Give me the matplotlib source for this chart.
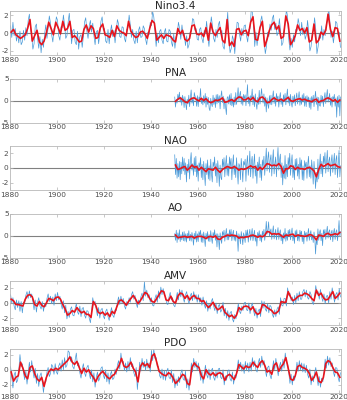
import numpy as np
import matplotlib
matplotlib.use('Agg')
import matplotlib.pyplot as plt

plt.rcParams['axes.unicode_minus'] = False

# Nino3.4, 1880-2020 (red: yearly, blue: two per year)
nino_red = [0.1, 0.4, -0.2, -0.4, -0.6, -0.4, -0.2, 0.5, 1.5, -0.9,
            -0.3, 0.3, -1.0, -1.3, -0.9, 0.0, 1.2, 0.5, -0.2, 1.2,
            0.6, -0.1, 1.3, 0.3, 0.5, 1.3, -0.5, -0.3, -0.6, -1.0,
            -0.9, 0.4, 0.9, 0.1, 0.8, 0.5, -0.6, -0.5, 0.6, 1.0,
            -0.2, -0.3, -0.5, 0.3, -0.4, 0.8, 0.3, 0.1, 0.0, -0.3,
            1.3, 0.2, -0.2, -0.5, -0.4, 0.1, 0.2, -0.1, -0.6, 0.5,
            1.4, 1.1, -0.8, -0.5, -0.2, -0.6, -0.2, -0.3, -0.4, -0.8,
            -1.0, 0.5, -0.1, 0.3, -0.7, -0.9, -0.6, 0.8, 0.9, -0.1,
            -0.2, 0.0, -0.4, 0.6, -0.8, 1.1, 0.1, -0.3, 0.2, 0.6,
            -0.8, -1.1, 1.5, -1.4, -1.0, -1.5, 0.4, 0.5, -0.2, 0.2,
            0.3, -0.3, 1.2, 1.8, -0.7, -0.8, 0.6, 1.3, -1.5, -0.7,
            0.3, 0.9, 1.2, 0.4, 0.8, -0.6, -0.4, 1.9, 1.0, -1.3,
            -0.9, -0.3, 0.9, 0.3, 0.5, 0.0, 0.6, -1.0, -0.8, 1.0,
            -1.1, -0.8, 0.1, -0.2, 0.3, 2.1, 0.4, -0.4, 0.6, 0.5,
            -0.9]
nino_blue = [0.8, -0.5, 1.2, -0.3, 0.5, -0.9, -0.1, -1.1, 0.2, -1.3, -1.0, 0.3, -0.8, 0.6, -0.3, 1.4, 2.1, 0.6, -0.4, -1.8,
             -1.2, 0.7, 1.0, -0.6, -1.7, -0.4, -2.2, -0.7, -1.6, -0.1, 0.9, -0.6, 0.6, 1.9, 1.1, -0.2, -1.0, 0.5, 0.7, 1.8,
             1.4, -0.3, -0.8, 0.7, 0.6, 2.0, 0.9, -0.6, -0.3, 1.2, 2.2, 0.5, -1.2, 0.3, 0.4, -1.0, -1.3, 0.2, -1.8, -0.4,
             -0.2, -1.6, -0.4, 1.2, 1.7, 0.2, -0.6, 0.8, 1.4, 0.1, 1.1, -0.3, -1.3, 0.1, 0.3, -1.2, -0.1, 1.3, 1.8, 0.3,
             0.5, -0.9, -1.1, 0.4, -1.2, 0.1, 0.9, -0.4, 0.3, -1.1, 0.1, 1.5, 1.0, -0.4, -0.5, 0.7, 0.6, -0.6, -1.0, 0.4,
             0.6, 2.0, 0.9, -0.5, 0.4, -0.8, -1.2, 0.2, -1.1, 0.3, 0.7, -0.5, -0.4, 0.8, 0.5, -0.7, -1.3, 0.1, -0.2, 1.2,
             0.8, 2.4, 1.8, 0.3, -1.5, -0.1, -1.1, 0.2, 0.4, -0.8, -1.2, 0.1, 0.5, -0.9, -1.0, 0.4, 0.2, -1.0, -1.5, -0.1,
             -1.7, -0.4, -0.2, 1.2, 0.5, -0.7, 0.9, -0.3, -0.1, -1.4, -0.3, -1.7, -1.3, 0.1, 0.2, 1.6, 1.5, 0.3, 0.5, -0.7,
             -0.8, 0.4, 0.6, -0.6, -1.1, 0.3, -0.1, 1.3, -0.3, -1.5, 0.4, 1.8, 0.8, -0.6, -1.0, 0.4, -0.5, 0.9, 1.3, -0.1,
             0.3, -1.5, -1.8, -0.4, 0.7, 2.3, -0.7, -2.2, -1.7, -0.3, -0.8, -2.3, -0.4, 1.2, 1.1, -0.1, -0.9, 0.5, -0.3, 0.8,
             0.9, -0.3, -1.0, 0.4, 0.5, 2.5, 2.3, 1.1, -1.5, 0.1, -1.4, -0.2, -0.2, 1.3, 1.9, 0.7, -0.8, -2.3, -1.5, 0.1,
             -0.4, 1.0, 0.3, 1.6, 2.0, 0.4, 1.1, -0.3, 0.1, 1.6, 0.2, -1.4, -1.1, 0.3, 1.2, 2.6, 1.8, -0.7, -1.9, -0.6,
             -1.6, -0.2, -1.0, 0.4, 0.2, 1.6, 0.9, -0.3, 1.2, -0.2, 0.6, -0.7, -0.2, 1.4, 0.1, -2.0, -1.5, -0.1, 0.3, 1.7,
             0.4, -2.3, -1.5, -0.1, -0.6, 0.8, -0.8, 0.4, -0.3, 1.0, 1.4, 2.8, 1.3, -0.5, 0.2, -1.1, -0.1, 1.3, 1.1, -0.2,
             0.1, -1.6]

# PNA, 1950-2020 (red: yearly, blue: three per year)
pna_red = [-0.2, 0.3, 0.6, 0.2, -0.3, -0.5, 0.1, 0.5, 0.6, 0.2,
           -0.1, 0.5, 0.0, 0.4, -0.2, -0.5, -0.3, 0.1, 0.0, 0.2,
           0.6, -0.4, -0.3, 0.0, 0.2, -0.2, 0.4, 0.8, 0.7, 0.1,
           0.2, 0.6, 0.1, 0.7, 0.0, -0.3, 0.6, 0.8, 0.3, -0.5,
           -0.4, 0.2, 0.6, 0.2, 0.0, 0.3, -0.1, 0.3, 0.7, 0.0,
           -0.2, 0.1, 0.3, 0.4, 0.1, 0.3, 0.0, -0.1, -0.3, 0.1,
           0.3, -0.4, -0.1, 0.0, 0.4, 0.6, 0.3, -0.1, 0.2, -0.4,
           0.1]
pna_blue = [0.8, -1.5, 0.3, -0.6, 1.4, 0.2, 1.9, -0.4, 0.8, -1.1, 1.2, 0.4, -1.6, 0.9, -0.5, -2.1, 0.3, -0.8, 1.2, -1.4, 0.6, 2.4, -0.6, 0.5, -1.2, 1.8, 0.9, 0.7, -1.3, 1.1,
            -1.4, 0.8, 0.2, 2.7, -0.7, 0.4, -1.0, 1.1, -0.6, 1.6, -1.5, 0.9, -0.9, 0.7, -1.8, -2.3, 0.5, -0.8, -1.4, 1.2, -0.9, 0.6, -1.6, 1.3, -0.8, 1.4, -0.5, 1.1, -1.9, 0.9,
            2.2, -0.5, 1.0, -1.9, 0.4, -1.3, -3.2, 0.6, 0.9, -0.8, 1.3, -1.0, 1.6, -1.2, 0.4, -1.5, 0.8, -1.0, 1.8, -0.9, 0.7, 2.9, -0.3, 1.2, 2.1, -0.8, 1.0, -1.1, 1.4, 0.3,
            1.3, -1.2, 0.7, 3.6, -0.7, 0.9, -1.3, 1.1, 0.4, 2.6, -1.0, 1.1, -1.4, 1.5, -0.6, -2.0, 0.7, -0.9, 2.3, -0.8, 1.0, 2.7, 0.4, -0.6, 1.5, -1.3, 0.8, -2.6, 0.6, -0.9,
            -1.8, 1.1, -0.9, 1.2, -1.0, 0.6, 2.2, -0.7, 0.9, -1.3, 1.6, 0.3, 1.0, -1.5, 0.6, 1.8, -0.9, 0.5, -1.4, 1.3, -0.3, 1.6, -1.0, 0.8, 2.6, -0.6, 1.0, -1.2, 1.4, -0.5,
            -1.5, 1.0, -0.6, 1.3, -1.2, 0.5, 1.7, -0.8, 0.6, 2.0, -1.1, 0.7, -0.9, 1.3, -0.4, 1.6, -1.3, 0.9, -1.4, 1.1, -0.3, 0.8, -1.6, 0.6, -2.0, 0.9, -0.5, 1.2, -1.4, 0.6,
            2.1, -0.9, 0.8, -2.3, 0.7, -1.1, -1.3, 1.2, -0.6, 1.0, -1.4, 0.4, 1.8, -0.7, 0.9, 2.5, -0.4, 0.6, 1.6, -1.1, 0.7, -1.5, 0.9, 0.3, 1.4, -1.3, 0.6, -3.8, 0.9, -1.5,
            1.2, -3.5, 0.8]

# NAO, 1950-2020
nao_red = [0.4, -0.2, -0.1, 0.1, 0.2, -0.3, 0.0, 0.4, 0.1, 0.2,
           -0.3, 0.1, -0.2, -0.5, -0.1, -0.2, -0.3, 0.1, -0.3, -0.6,
           -0.2, 0.0, 0.2, 0.1, 0.0, 0.2, 0.0, -0.3, -0.1, -0.2,
           -0.1, 0.1, 0.3, 0.1, 0.2, -0.3, 0.1, -0.2, 0.2, 0.6,
           0.5, 0.3, 0.4, 0.3, 0.6, 0.2, -0.7, -0.1, -0.1, 0.3,
           0.2, -0.2, 0.1, -0.1, -0.1, -0.2, 0.0, 0.1, -0.1, -0.4,
           -1.2, -0.2, 0.5, 0.2, 0.4, 0.6, 0.3, 0.4, 0.5, 0.2,
           0.1]
nao_blue = [1.8, -0.9, 1.3, -1.4, 0.6, -1.2, 0.9, -1.6, 0.8, -0.8, 1.5, -0.4, 1.3, -0.9, 0.7, -1.9, 0.5, -0.6, 1.2, -1.5, 0.9, 2.1, -0.3, 0.6, -1.0, 1.4, -0.5, 1.6, -1.2, 0.4,
            -1.8, 0.7, 0.1, 1.4, -1.3, 0.5, -1.6, 0.9, -0.7, -2.4, 0.6, -0.9, 1.1, -1.5, 0.3, -1.7, 1.2, -0.8, -1.9, 0.8, 0.2, 1.5, -1.1, 0.6, -2.0, 1.0, -0.4, -2.5, 0.4, -1.3,
            -1.6, 1.2, 0.1, 1.4, -1.2, 0.5, 1.7, -1.0, 0.6, -1.1, 1.5, 0.2, 1.3, -1.6, 0.5, 1.8, -0.9, 0.4, -1.3, 1.4, -0.5, -2.2, 0.6, 0.3, -1.6, 1.3, 0.0, -1.9, 0.9, 0.4,
            1.2, -1.8, 0.6, 1.7, -1.0, 0.2, 2.3, -1.2, 0.8, 1.6, -1.4, 0.5, 1.9, -1.1, 0.4, -2.1, 0.8, -0.3, 1.5, -1.3, 0.5, -1.7, 1.1, 0.2, 1.6, -1.0, 0.7, 2.7, -0.4, 1.3,
            2.2, -0.6, 1.1, 1.8, -1.1, 0.9, 2.5, -0.8, 0.6, 1.5, -1.2, 1.0, 2.8, -0.3, 1.1, 1.9, -1.3, 0.7, -2.3, 0.3, -1.4, 1.7, -1.5, 0.5, -1.2, 1.4, 0.2, 2.0, -1.0, 0.7,
            1.8, -1.3, 0.4, -1.6, 1.2, -0.3, 1.3, -1.1, 0.5, -1.5, 1.4, -0.2, 1.1, -1.6, 0.3, -1.7, 1.0, 0.1, 0.8, -1.4, 0.5, 1.6, -1.2, 0.3, -1.4, 1.1, -0.2, -2.2, 0.9, -0.8,
            -2.8, -0.6, -1.9, 1.2, -1.5, 0.3, 1.9, -0.8, 0.9, -1.2, 1.6, 0.6, 2.1, -0.7, 0.8, 2.4, -0.5, 1.0, 1.5, -1.1, 0.9, 1.8, -0.6, 0.7, 2.0, -0.9, 1.1, 1.7, -1.3, 0.6,
            2.4, -1.2, 0.3]

# AO, 1950-2020
ao_red = [0.1, -0.5, -0.4, -0.3, -0.2, -0.4, -0.3, -0.2, -0.6, -0.3,
          -0.2, -0.2, -0.4, -0.7, -0.3, -0.2, -0.4, -0.1, -0.8, -0.9,
          -0.4, -0.2, 0.1, 0.0, 0.1, 0.0, -0.1, -0.6, -0.4, -0.5,
          -0.3, -0.3, 0.0, 0.1, -0.1, -0.4, -0.1, -0.3, 0.0, 0.9,
          0.8, 0.3, 0.4, 0.3, 0.4, 0.0, -0.4, 0.1, 0.0, 0.2,
          0.3, -0.2, 0.1, 0.0, -0.1, -0.2, -0.1, 0.2, 0.1, -0.3,
          -1.0, 0.1, 0.0, -0.2, 0.3, 0.5, 0.1, 0.2, 0.4, 0.2,
          0.7]
ao_blue = [0.4, -1.1, 1.2, -1.6, 0.6, -0.9, 1.3, -1.4, 0.2, -1.0, 0.8, -1.2, 0.9, -1.3, 0.4, -1.5, 0.5, -0.7, 1.1, -1.2, 0.3, -1.3, 0.7, -0.4, -2.2, 0.5, -0.9, 1.0, -1.5, 0.4,
           -1.4, 0.9, 0.0, 1.2, -1.5, 0.4, -1.6, 0.8, -0.6, -2.5, 0.5, -0.8, 0.9, -1.3, 0.2, -1.4, 1.1, -0.6, -1.8, 0.7, -0.3, 1.3, -1.1, 0.4, -2.6, 0.4, -0.8, -3.2, 0.6, -0.9,
           -1.8, 0.9, 0.0, 1.2, -1.3, 0.3, 1.6, -1.0, 0.5, -1.0, 1.3, -0.2, 1.4, -1.2, 0.3, 1.2, -1.1, 0.2, -1.3, 1.0, -0.3, -3.6, 0.4, -0.5, -1.9, 0.9, -0.4, -2.1, 0.6, -0.1,
           -1.6, 1.2, -0.5, 1.3, -1.5, 0.3, 1.4, -1.1, 0.4, 1.6, -1.2, 0.2, 1.2, -1.3, 0.0, -2.4, 0.7, -0.4, 1.1, -1.2, 0.3, -1.5, 1.0, -0.2, 1.4, -1.1, 0.5, 3.2, 0.3, 1.2,
           3.1, -0.2, 0.9, 1.5, -0.9, 0.7, 2.2, -0.8, 0.4, 1.4, -1.0, 0.6, 1.8, -0.9, 0.5, 1.3, -1.2, 0.3, -1.9, 0.6, -0.8, 1.6, -1.3, 0.5, -1.1, 1.2, 0.1, 1.4, -1.0, 0.6,
           1.7, -1.2, 0.4, -1.8, 1.1, -0.2, 1.3, -1.2, 0.3, -1.3, 1.2, 0.1, 1.0, -1.4, 0.2, -1.9, 1.0, -0.1, 0.7, -1.3, 0.4, 1.6, -1.1, 0.3, 1.1, -1.0, 0.2, -1.6, 0.8, -0.7,
           -4.2, -0.8, -2.1, 1.5, -1.1, 0.6, 1.3, -1.2, 0.5, -2.3, 1.3, 0.2, 1.4, -0.9, 0.8, 2.1, -0.6, 0.9, 1.3, -1.0, 0.6, 1.2, -1.4, 0.7, 1.6, -0.9, 0.8, 1.3, -1.2, 0.6,
           3.4, -0.2, 0.9]

# AMV, 1880-2020
amv_red = [0.5, 0.3, -0.2, -0.2, -0.3, -0.4, 0.5, 1.0, 1.1, 0.8,
           -0.2, -0.4, 0.2, -0.3, -0.5, 0.0, 0.6, 0.5, 0.3, 0.7,
           0.8, 0.5, -0.2, -0.8, -1.6, -1.4, -1.0, -1.2, -0.6, -1.0,
           -1.3, -1.1, -1.5, -1.5, -1.9, 0.2, -0.3, -1.2, -1.4, -1.2,
           -1.6, -1.3, -1.8, -1.1, -1.4, -0.5, 0.3, 0.4, 0.1, -0.3,
           0.2, 0.6, 1.0, 0.5, -0.1, 0.3, 0.8, 1.4, 1.2, 0.6,
           0.2, 0.1, 0.6, 1.1, 1.6, 1.5, 0.4, 0.3, 0.9, 0.2,
           0.0, 0.9, 1.3, 1.2, 0.6, 1.0, 0.4, 0.8, 1.0, 0.6,
           0.6, 0.2, 0.3, -0.2, -0.6, -0.3, 0.1, -0.5, -0.9, -0.7,
           -0.4, -1.2, -1.5, -1.8, -1.6, -2.0, -1.6, -0.6, -0.9, -0.5,
           -0.4, -0.5, -0.9, -0.5, -1.2, -1.5, -1.3, -0.2, -0.3, -0.6,
           -0.8, -1.0, -1.4, -1.3, -1.0, 0.2, 0.1, 0.1, 1.5, 0.8,
           0.3, 0.5, 0.8, 1.0, 1.0, 1.3, 1.2, 1.0, 0.6, 0.3,
           1.7, 1.0, 1.3, 0.7, 0.4, 0.5, 1.0, 1.5, 0.6, 0.9,
           1.3]
amv_blue = [1.1, 0.0, 0.7, -0.4, -0.9, 0.4, -0.6, 0.3, -1.1, 0.2, -1.3, 0.1, 0.0, 1.0, 1.5, 0.6, 1.6, 0.7, 1.2, 0.2,
            -0.9, 0.4, -1.2, 0.1, 0.7, -0.4, -0.8, 0.2, -1.1, -0.1, -0.5, 0.6, 1.2, 0.2, 0.9, -0.1, 0.8, -0.3, 1.2, 0.3,
            1.4, 0.4, 0.9, -0.1, -0.8, 0.3, -1.3, -0.3, -2.1, -1.1, -1.9, -0.8, -0.5, -1.6, -1.7, -0.7, -0.1, -1.2, -1.5, -0.4,
            -1.8, -0.7, -0.6, -1.6, -2.0, -1.0, -1.1, -2.0, -2.6, -1.3, 0.7, -0.3, 0.2, -0.9, -1.7, -0.6, -2.0, -0.9, -0.7, -1.7,
            -2.1, -1.1, -0.8, -1.8, -2.3, -1.3, -0.6, -1.6, -1.9, -0.9, -1.0, 0.1, 0.8, -0.2, 0.9, 0.0, 0.6, -0.4, -0.8, 0.2,
            -0.3, 0.7, 0.1, 1.1, 1.5, 0.5, 1.0, 0.0, -0.6, 0.4, -0.2, 0.8, 1.3, 0.3, 2.8, 0.9, 1.7, 0.7, 1.1, 0.1,
            0.7, -0.3, -0.4, 0.6, 1.1, 0.1, 1.6, 0.6, 2.1, 1.1, 1.9, 1.0, 0.9, -0.1, -0.2, 0.8, 1.4, 0.4, 0.7, -0.3,
            -0.5, 0.5, 1.4, 0.4, 1.8, 0.8, 1.7, 0.7, 0.1, 1.1, 1.5, 0.5, -0.1, 0.9, 1.3, 0.3, 1.5, 0.5, 1.1, 0.1,
            1.1, 0.1, 0.7, -0.3, 0.8, -0.2, -0.7, 0.3, -1.1, -0.1, -0.8, 0.2, 0.6, -0.4, -1.0, 0.0, -1.4, -0.4, -0.2, -1.2,
            -0.9, 0.1, -1.7, -0.7, -2.0, -1.0, -2.3, -1.3, -1.1, -2.1, -2.5, -1.5, -2.1, -1.1, -0.1, -1.1, -1.4, -0.4, -1.0, 0.0,
            0.1, -0.9, -1.0, 0.0, -1.4, -0.4, 0.0, -1.0, -1.7, -0.7, -2.0, -1.0, -0.8, -1.8, 0.3, -0.7, 0.2, -0.8, -1.1, -0.1,
            -1.3, -0.3, -0.5, -1.5, -1.9, -0.9, -1.8, -0.8, -0.5, -1.5, 0.7, -0.3, -0.4, 0.6, 0.6, -0.4, 2.0, 1.0, 1.3, 0.3,
            0.8, -0.2, 1.0, 0.0, 1.3, 0.3, 1.5, 0.5, 0.5, 1.5, 1.8, 0.8, 1.7, 0.7, 0.5, 1.5, 1.1, 0.1, -0.2, 0.8,
            2.3, 1.2, 1.5, 0.5, 1.8, 0.8, 0.2, 1.2, -0.1, 0.9, 1.0, 0.0, 1.5, 0.5, 2.0, 1.0, 0.1, 1.1, 1.4, 0.4,
            1.9, 0.8]

# PDO, 1880-2020
pdo_red = [-0.3, -1.5, -1.0, -0.8, 1.0, 0.2, -0.8, -1.2, 0.3, 0.5,
           -0.5, -1.2, -1.5, -1.0, -2.2, -1.0, -0.3, 0.1, -0.1, 0.2,
           0.0, 0.3, 0.6, 0.9, 1.2, 1.7, 1.0, 0.7, 1.1, 0.3,
           -0.5, 0.2, -0.3, 0.0, -0.6, -1.0, -1.6, -0.9, -0.5, -0.2,
           -0.6, -1.0, -1.2, -0.8, -0.6, 0.0, 0.6, 1.5, 0.5, 0.3,
           0.5, 1.0, 0.2, -0.3, -1.6, 0.4, 0.9, 0.5, 0.8, 0.3,
           1.8, 2.1, 1.0, -0.2, -0.5, -0.7, -0.8, -0.4, -0.6, -1.1,
           -1.8, -1.5, -1.1, -0.6, -0.8, -1.8, -2.0, 0.3, 0.9, 0.5,
           0.3, -0.8, -1.2, 0.0, -0.5, -0.7, -0.4, -0.8, -0.5, -0.4,
           -0.6, -1.4, -0.8, -0.6, -0.9, -1.3, -0.5, 0.7, 0.4, 0.1,
           0.5, 0.3, 0.4, 1.0, 0.6, 0.3, 0.9, 1.2, 0.6, -0.3,
           -0.1, -0.6, 0.6, 0.9, -0.2, 0.4, 0.8, 1.6, 0.2, -1.2,
           -1.4, -0.8, 0.4, 0.6, 0.3, 0.2, 0.0, -0.5, -1.4, -1.0,
           -0.3, -1.5, -1.7, -1.0, 0.8, 1.2, 1.0, 0.3, -0.3, -0.4,
           -1.0]
pdo_blue = [0.4, -1.0, -2.4, -0.7, -0.3, -1.7, -1.4, -0.1, 2.0, 0.4, 0.8, -0.4, -1.3, -0.2, -1.9, -0.5, 1.0, -0.3, 1.2, -0.1,
            -1.1, 0.2, -1.8, -0.5, -2.2, -0.8, -0.4, -1.6, -3.0, -1.6, -1.6, -0.3, 0.3, -0.9, -0.5, 0.7, 0.4, -0.6, 0.8, -0.3,
            -0.6, 0.5, 0.9, -0.2, 1.3, 0.0, 1.6, 0.3, 0.6, 2.5, 2.3, 1.1, 1.7, 0.4, 0.1, 1.3, 2.2, 0.5, 0.9, -0.4,
            -1.1, 0.1, 0.8, -0.4, -0.9, 0.3, 0.6, -0.5, -1.2, 0.0, -1.6, -0.4, -2.3, -1.0, -0.3, -1.5, -1.1, 0.2, 0.4, -0.7,
            -1.2, 0.0, -1.6, -0.4, -1.9, -0.6, -0.2, -1.3, -1.1, 0.1, -0.6, 0.6, 1.2, 0.1, 2.2, 0.9, 1.1, -0.1, 0.9, -0.3,
            1.1, -0.1, 1.6, 0.4, 0.8, -0.4, -0.9, 0.3, -2.6, -0.8, 1.0, -0.2, 1.5, 0.3, 1.1, -0.1, 1.4, 0.2, 0.9, -0.3,
            2.5, 1.2, 2.7, 1.5, 1.6, 0.4, 0.4, -0.8, -1.1, 0.1, -1.3, -0.1, -1.4, -0.2, 0.2, -1.0, -1.2, 0.0, -1.7, -0.5,
            -2.4, -1.2, -2.1, -0.9, -1.7, -0.5, 0.0, -1.2, -1.4, -0.2, -2.4, -1.2, -2.7, -1.3, 0.9, -0.3, 1.5, 0.3, 1.1, -0.1,
            0.9, -0.3, -1.4, -0.2, -1.8, -0.6, 0.6, -0.6, -1.1, 0.1, -1.3, -0.1, 0.2, -1.0, -1.4, -0.2, -1.1, 0.1, 0.2, -1.0,
            -1.2, 0.0, -2.0, -0.8, -1.4, -0.2, 0.0, -1.2, -1.5, -0.3, -1.9, -0.7, -1.1, 0.1, 1.3, 0.1, 1.0, -0.2, 0.7, -0.5,
            1.1, -0.1, 0.9, -0.3, 1.0, -0.2, 1.6, 0.4, 1.2, 0.0, -0.3, 0.9, 1.5, 0.3, 1.8, 0.6, 1.2, 0.0, -0.9, 0.3,
            0.5, -0.7, -1.2, 0.0, 1.2, 0.0, 1.5, 0.3, -0.8, 0.4, 1.0, -0.2, 1.4, 0.2, 2.2, 1.0, 0.8, -0.4, -1.8, -0.6,
            -2.0, -0.8, -1.4, -0.2, 1.0, -0.2, 1.2, 0.0, 0.9, -0.3, 0.8, -0.4, 0.6, -0.6, -1.1, 0.1, -2.0, -0.8, -1.6, -0.4,
            0.3, -0.9, -2.1, -0.9, -2.3, -1.1, -1.6, -0.4, 1.4, 0.2, 1.8, 0.6, 1.6, 0.4, 0.9, -0.3, -0.9, 0.3, 0.2, -1.0,
            -1.6, -0.4]

# name, first year, samples per year, blue, red, ylim, yticks
panels = [
    ('Nino3.4', 1880, 2, nino_blue, nino_red, (-2.45, 2.45), [-2, 0, 2]),
    ('PNA', 1950, 3, pna_blue, pna_red, (-5, 5), [-5, 0, 5]),
    ('NAO', 1950, 3, nao_blue, nao_red, (-3, 3), [-2, 0, 2]),
    ('AO', 1950, 3, ao_blue, ao_red, (-5, 5), [-5, 0, 5]),
    ('AMV', 1880, 2, amv_blue, amv_red, (-2.9, 2.9), [-2, 0, 2]),
    ('PDO', 1880, 2, pdo_blue, pdo_red, (-3.0, 2.8), [-2, 0, 2]),
]

W, H = 347, 400
fig = plt.figure(figsize=(W / 100, H / 100), dpi=100)

tops = [11, 78.5, 146, 213.5, 281, 348.5]
ax_h = 44
for (name, start, per_year, blue, red, ylim, yticks), top in zip(panels, tops):
    ax = fig.add_axes([10 / W, 1 - (top + ax_h) / H, 331 / W, ax_h / H])
    blue = np.array(blue)
    red = np.array(red)
    tb = start + (np.arange(len(blue)) + 0.5) / per_year
    tr = start + 0.5 + np.arange(len(red))
    ax.axhline(0, color='#808080', lw=0.8, zorder=1)
    ax.plot(tb, blue, color='#4a9ad8', lw=0.5, zorder=2)
    ax.plot(tr, red, color='#e8141c', lw=1.2, zorder=3)
    ax.set_xlim(1880, 2021)
    ax.set_ylim(*ylim)
    ax.set_yticks(yticks)
    ax.set_xticks(range(1880, 2021, 20))
    ax.set_title(name, fontsize=7.5, color='#262626', pad=1.5)
    ax.tick_params(direction='in', length=2, width=0.5, colors='#b0b0b0',
                   labelcolor='#4d4d4d', labelsize=5.3, pad=1.2,
                   top=True, right=True)
    ax.tick_params(axis='y', pad=1.0)
    for s in ax.spines.values():
        s.set_color('#b8b8b8')
        s.set_linewidth(0.6)

fig.savefig('out.png', dpi=100)
